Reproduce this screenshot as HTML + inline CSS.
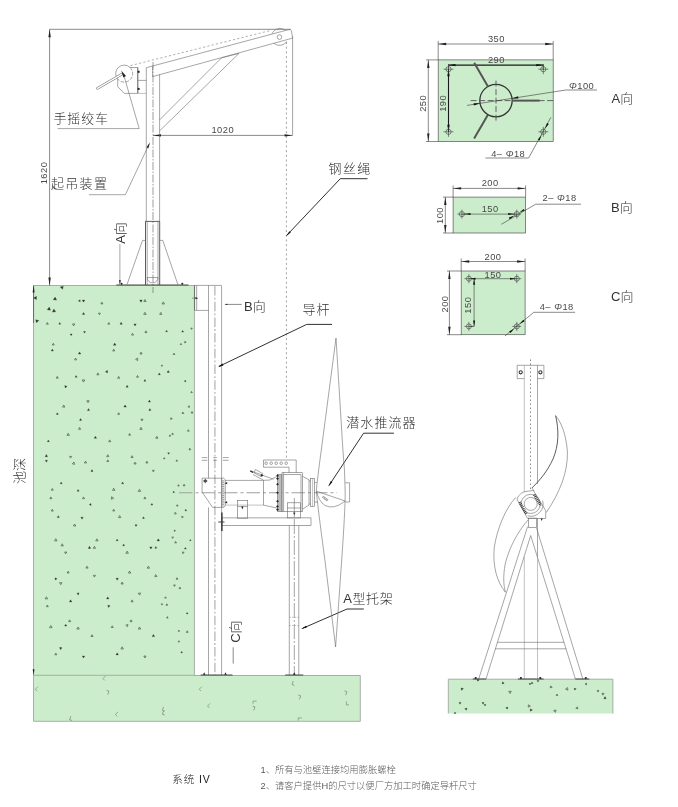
<!DOCTYPE html>
<html lang="zh"><head><meta charset="utf-8"><title>系统 IV</title><style>
html,body{margin:0;padding:0;background:#fff}
svg{display:block}
text{filter:grayscale(1)}
text{font-family:"Liberation Sans","Noto Sans CJK SC",sans-serif}
.l{fill:none;stroke:#6a6a6a;stroke-width:.6}
.l2{fill:none;stroke:#999;stroke-width:.6}
.s{fill:none;stroke:#333;stroke-width:.8}
.d{fill:none;stroke:#3a3a3a;stroke-width:.6}
.k{fill:none;stroke:#1a1a1a;stroke-width:.9}
.kk{fill:none;stroke:#1a1a1a;stroke-width:1.1}
.kf{fill:#111;stroke:none}
.af{fill:#222;stroke:none}
.dot{fill:none;stroke:#808080;stroke-width:.75;stroke-dasharray:2 2.7}
.l3{fill:none;stroke:#8c8c8c;stroke-width:.8}
.bo{fill:#fff;stroke:#333;stroke-width:1.1}
.dot2{fill:none;stroke:#555;stroke-width:.7;stroke-dasharray:1.5 2.5}
.dsh2{fill:none;stroke:#666;stroke-width:.6;stroke-dasharray:3.5 1.5}
.dsh3{fill:none;stroke:#777;stroke-width:.6;stroke-dasharray:2.2 2.2}
.dsh{fill:none;stroke:#777;stroke-width:.5;stroke-dasharray:1.5 1.2}
.cl{fill:none;stroke:#5a5a5a;stroke-width:.6;stroke-dasharray:8 1.5 1.5 1.5}
.cl2{fill:none;stroke:#b0b0b0;stroke-width:1.2;stroke-dasharray:9.5 2.2 1.8 2.2}
.cl4{fill:none;stroke:#666;stroke-width:.6;stroke-dasharray:15 2 2 2}
.cl3{fill:none;stroke:#a0a0a0;stroke-width:1.1;stroke-dasharray:13.5 3 3 3}
.cd{fill:none;stroke:#555;stroke-width:.9;stroke-dasharray:6 2.5}
.ck{fill:none;stroke:#333;stroke-width:1.3}
.rib{fill:none;stroke:#555;stroke-width:2}
.hat{fill:none;stroke:#333;stroke-width:2.8;stroke-dasharray:.9 .9}
.wd{fill:none;stroke:#fff;stroke-width:1.1;stroke-dasharray:1.2 1}
.fb{fill:none;stroke:#999;stroke-width:2}
.fl{fill:#bbb;stroke:#666;stroke-width:.5}
.bp{fill:none;stroke:#444;stroke-width:1}
.bp2{fill:none;stroke:#333;stroke-width:1.4}
.ce{fill:none;stroke:#959e95;stroke-width:.8}
.pe{stroke:#555;stroke-width:.7}
.tf{fill:#333;stroke:#333;stroke-width:.3}
.to{fill:none;stroke:#333;stroke-width:.55}
.lm{fill:none;stroke:#555;stroke-width:.45}
.t{font-size:13px;font-weight:300;fill:#333}
.n{font-size:9.3px;fill:#484848;font-weight:400;letter-spacing:.5px}
.ti{font-size:10.5px;fill:#1a1a1a;font-weight:300}
.nt{font-size:9.3px;fill:#5a5a5a;font-weight:300}
</style></head>
<body><svg width="678" height="807" viewBox="0 0 678 807">
<rect x="33.5" y="285.5" width="160.9" height="390" fill="#ccedcc"/>
<rect x="33.5" y="675.3" width="326.8" height="46" fill="#ccedcc"/>
<rect x="448.3" y="679.2" width="164.6" height="34.3" fill="#ccedcc"/>
<path class="ce" d="M33.5,285.5V721.3H360.3V675.5H194.4"/>
<path class="ce" d="M33.5,675.3H194.4V285.5H33.5"/>
<path class="ce" d="M448.3,713.5V679.2H612.9V713.5"/>
<polygon class="tf" points="80.3,301.8 78.3,300.9 80.1,299.7"/>
<polygon class="tf" points="83.5,302.2 82.3,300.1 84.8,300.1"/>
<polygon class="tf" points="82.4,314.4 83.5,312.4 84.7,314.4"/>
<polygon class="to" points="101.9,302.1 102.9,303.9 100.8,303.9"/>
<polygon class="to" points="99.6,314.8 98.3,313.3 100.3,313.0"/>
<polygon class="to" points="47.3,322.5 48.3,324.2 46.4,324.2"/>
<polygon class="tf" points="60.7,324.2 58.8,324.2 59.7,322.5"/>
<polygon class="to" points="73.6,325.9 72.5,323.9 74.8,323.9"/>
<polygon class="tf" points="70.1,333.9 72.1,333.9 71.2,335.7"/>
<polygon class="tf" points="84.5,333.2 83.5,331.5 85.5,331.5"/>
<polygon class="to" points="52.3,345.0 53.3,343.3 54.3,345.0"/>
<polygon class="tf" points="53.4,351.0 51.2,351.0 52.3,349.1"/>
<polygon class="tf" points="79.6,351.9 80.8,354.1 78.3,354.1"/>
<polygon class="to" points="76.7,359.9 74.5,359.9 75.6,358.1"/>
<polygon class="to" points="57.3,376.4 58.3,378.2 56.2,378.2"/>
<polygon class="tf" points="75.1,377.2 76.1,375.5 77.1,377.2"/>
<polygon class="to" points="83.5,382.1 82.2,379.9 84.8,379.9"/>
<polygon class="tf" points="65.1,387.9 64.8,385.4 67.1,386.4"/>
<polygon class="to" points="97.9,372.9 99.0,374.8 96.8,374.8"/>
<polygon class="tf" points="105.4,371.9 107.3,370.3 107.8,372.8"/>
<polygon class="to" points="88.0,402.8 86.8,400.7 89.2,400.7"/>
<polygon class="to" points="62.5,407.1 63.7,405.0 64.9,407.1"/>
<polygon class="tf" points="89.6,410.5 87.4,410.5 88.5,408.6"/>
<polygon class="tf" points="58.3,414.4 56.3,414.4 57.3,412.7"/>
<polygon class="tf" points="79.5,420.4 80.6,418.6 81.6,420.4"/>
<polygon class="to" points="79.6,427.4 80.7,429.3 78.5,429.3"/>
<polygon class="to" points="66.9,435.4 68.2,433.2 69.4,435.4"/>
<polygon class="tf" points="95.4,436.2 96.6,438.3 94.2,438.3"/>
<polygon class="tf" points="48.3,439.9 49.4,441.7 47.3,441.7"/>
<polygon class="tf" points="47.6,456.7 45.1,456.7 46.4,454.5"/>
<polygon class="tf" points="46.4,462.2 45.3,460.3 47.5,460.3"/>
<polygon class="to" points="70.6,458.1 69.6,456.4 71.6,456.4"/>
<polygon class="to" points="72.3,463.8 74.0,462.0 74.6,464.4"/>
<polygon class="to" points="85.5,461.1 86.6,463.0 84.4,463.0"/>
<polygon class="tf" points="92.0,469.6 93.0,471.5 90.9,471.5"/>
<polygon class="tf" points="61.2,482.1 62.2,483.8 60.2,483.8"/>
<polygon class="to" points="53.3,490.2 51.3,490.2 52.3,488.5"/>
<polygon class="tf" points="77.1,491.2 78.1,489.5 79.1,491.2"/>
<polygon class="to" points="51.9,498.7 49.8,498.7 50.8,496.9"/>
<polygon class="to" points="82.5,498.7 83.5,496.9 84.5,498.7"/>
<polygon class="tf" points="91.2,505.5 89.3,504.7 90.9,503.4"/>
<polygon class="to" points="52.3,509.3 53.3,511.1 51.3,511.1"/>
<polygon class="tf" points="59.3,517.5 57.2,517.5 58.3,515.7"/>
<polygon class="tf" points="82.0,519.2 80.9,517.2 83.2,517.2"/>
<polygon class="to" points="75.8,526.0 73.4,526.0 74.6,524.0"/>
<polygon class="to" points="55.8,538.7 57.0,540.9 54.5,540.9"/>
<polygon class="to" points="62.2,543.8 63.4,545.9 61.0,545.9"/>
<polygon class="to" points="96.9,538.8 98.1,540.9 95.7,540.9"/>
<polygon class="tf" points="89.5,546.2 90.7,548.4 88.2,548.4"/>
<polygon class="to" points="94.4,546.3 95.6,548.3 93.3,548.3"/>
<polygon class="to" points="65.7,553.9 64.6,552.0 66.8,552.0"/>
<polygon class="to" points="88.1,568.1 85.9,568.1 87.0,566.2"/>
<polygon class="to" points="68.2,571.2 69.2,573.0 67.1,573.0"/>
<polygon class="to" points="94.4,577.1 93.4,575.3 95.5,575.3"/>
<polygon class="tf" points="55.0,577.8 57.1,578.8 55.2,580.0"/>
<polygon class="to" points="61.9,582.6 60.8,584.7 59.5,582.7"/>
<polygon class="tf" points="78.6,594.9 76.8,593.6 78.8,592.7"/>
<polygon class="to" points="45.1,598.9 46.4,596.8 47.6,598.9"/>
<polygon class="tf" points="70.6,599.8 71.9,601.9 69.4,601.9"/>
<polygon class="to" points="46.4,606.7 47.3,605.0 48.3,606.7"/>
<polygon class="to" points="68.6,621.6 69.7,619.8 70.7,621.6"/>
<polygon class="tf" points="65.7,624.2 66.8,626.1 64.6,626.1"/>
<polygon class="to" points="78.1,627.0 79.3,629.1 76.8,629.1"/>
<polygon class="to" points="50.8,625.5 52.1,627.7 49.5,627.7"/>
<polygon class="to" points="93.0,636.5 90.9,636.5 92.0,634.7"/>
<polygon class="tf" points="60.7,649.7 59.5,647.6 61.9,647.6"/>
<polygon class="to" points="56.8,654.8 54.8,654.8 55.8,653.1"/>
<polygon class="tf" points="83.5,658.1 82.3,656.0 84.7,656.0"/>
<polygon class="tf" points="141.0,302.3 139.7,300.1 142.2,300.1"/>
<polygon class="to" points="144.9,299.5 146.1,301.5 143.8,301.5"/>
<polygon class="to" points="144.9,312.3 146.2,314.4 143.7,314.4"/>
<polygon class="to" points="164.5,304.0 162.1,304.0 163.3,301.9"/>
<polygon class="to" points="160.8,312.4 161.9,314.4 159.7,314.4"/>
<polygon class="to" points="108.8,322.5 109.7,324.2 107.8,324.2"/>
<polygon class="tf" points="121.1,322.3 122.3,324.3 120.0,324.3"/>
<polygon class="tf" points="135.0,326.0 133.9,323.9 136.2,323.9"/>
<polygon class="to" points="131.5,335.1 132.5,333.3 133.6,335.1"/>
<polygon class="to" points="147.0,332.6 144.9,332.6 145.9,330.8"/>
<polygon class="tf" points="113.4,345.2 114.7,343.0 116.0,345.2"/>
<polygon class="to" points="113.7,349.2 114.7,351.0 112.7,351.0"/>
<polygon class="to" points="142.1,354.0 139.9,354.0 141.0,352.1"/>
<polygon class="to" points="137.8,360.5 135.6,359.4 137.6,358.0"/>
<polygon class="to" points="118.7,376.4 119.7,378.3 117.6,378.3"/>
<polygon class="to" points="136.5,377.2 137.5,375.5 138.5,377.2"/>
<polygon class="tf" points="144.9,379.4 145.9,381.2 143.9,381.2"/>
<polygon class="tf" points="128.2,387.2 126.0,387.2 127.1,385.3"/>
<polygon class="tf" points="160.4,374.8 158.2,374.8 159.3,372.9"/>
<polygon class="tf" points="168.2,370.4 169.4,372.4 167.1,372.4"/>
<polygon class="tf" points="149.4,400.1 150.5,402.1 148.3,402.1"/>
<polygon class="tf" points="125.1,404.9 126.4,407.1 123.8,407.1"/>
<polygon class="tf" points="149.9,408.6 150.9,410.5 148.8,410.5"/>
<polygon class="to" points="117.7,414.4 118.7,412.7 119.6,414.4"/>
<polygon class="to" points="142.0,421.0 140.9,419.2 143.0,419.2"/>
<polygon class="to" points="141.0,427.3 142.2,429.4 139.8,429.4"/>
<polygon class="to" points="130.6,435.2 128.6,435.2 129.6,433.5"/>
<polygon class="to" points="156.8,436.3 158.0,438.3 155.7,438.3"/>
<polygon class="to" points="109.7,439.9 110.8,441.7 108.7,441.7"/>
<polygon class="to" points="108.8,456.6 106.7,456.6 107.8,454.7"/>
<polygon class="to" points="107.8,459.8 108.7,461.5 106.8,461.5"/>
<polygon class="to" points="133.1,457.5 131.0,457.5 132.1,455.7"/>
<polygon class="to" points="133.9,464.0 135.0,462.1 136.2,464.0"/>
<polygon class="to" points="146.9,461.2 147.9,463.0 145.9,463.0"/>
<polygon class="to" points="153.4,471.9 152.4,470.3 154.3,470.3"/>
<polygon class="tf" points="121.6,483.8 122.6,482.0 123.7,483.8"/>
<polygon class="to" points="112.5,490.4 113.7,488.2 114.9,490.4"/>
<polygon class="to" points="140.7,491.4 138.2,491.4 139.5,489.2"/>
<polygon class="to" points="111.4,499.3 111.6,496.7 113.7,498.2"/>
<polygon class="to" points="144.9,496.9 145.9,498.7 143.9,498.7"/>
<polygon class="tf" points="152.8,505.1 150.9,505.1 151.9,503.4"/>
<polygon class="to" points="112.7,511.0 113.7,509.3 114.7,511.0"/>
<polygon class="to" points="119.7,515.5 120.8,517.6 118.5,517.6"/>
<polygon class="tf" points="144.4,518.5 142.5,518.5 143.5,516.8"/>
<polygon class="tf" points="136.0,526.5 135.0,524.7 137.1,524.7"/>
<polygon class="tf" points="117.2,539.1 118.1,540.8 116.2,540.8"/>
<polygon class="tf" points="122.7,545.7 123.6,544.1 124.6,545.7"/>
<polygon class="tf" points="158.3,538.8 159.5,540.9 157.1,540.9"/>
<polygon class="tf" points="150.9,549.1 149.7,546.9 152.1,546.9"/>
<polygon class="tf" points="155.8,546.5 156.8,548.2 154.9,548.2"/>
<polygon class="to" points="127.1,551.1 128.4,553.3 125.8,553.3"/>
<polygon class="to" points="147.2,568.2 148.4,566.1 149.6,568.2"/>
<polygon class="to" points="130.8,573.1 128.4,573.1 129.6,571.0"/>
<polygon class="to" points="157.1,576.3 154.9,576.8 155.5,574.6"/>
<polygon class="tf" points="117.2,580.2 116.0,578.2 118.4,578.2"/>
<polygon class="to" points="122.1,582.0 123.3,584.0 121.0,584.0"/>
<polygon class="to" points="140.5,592.9 139.7,595.1 138.2,593.3"/>
<polygon class="tf" points="107.8,596.8 108.9,598.9 106.6,598.9"/>
<polygon class="to" points="131.0,601.8 132.1,599.9 133.1,601.8"/>
<polygon class="tf" points="107.8,605.2 110.1,605.8 108.4,607.4"/>
<polygon class="to" points="131.1,619.8 132.1,621.6 130.0,621.6"/>
<polygon class="to" points="125.8,625.2 128.0,624.5 127.5,626.7"/>
<polygon class="to" points="139.5,627.0 140.7,629.1 138.3,629.1"/>
<polygon class="to" points="112.2,625.8 113.3,627.5 111.2,627.5"/>
<polygon class="tf" points="152.1,636.6 153.4,634.4 154.7,636.6"/>
<polygon class="to" points="122.1,646.8 123.4,649.0 120.9,649.0"/>
<polygon class="tf" points="117.2,652.8 118.4,654.9 116.0,654.9"/>
<polygon class="to" points="144.9,658.0 143.8,656.0 146.1,656.0"/>
<polygon class="tf" points="165.6,331.8 166.6,330.2 167.5,331.8"/>
<polygon class="tf" points="182.6,330.4 183.6,332.1 181.7,332.1"/>
<polygon class="to" points="191.5,329.4 190.8,328.1 192.3,328.1"/>
<polygon class="to" points="180.2,344.6 180.9,343.4 181.6,344.6"/>
<polygon class="to" points="174.0,353.1 174.8,354.5 173.2,354.5"/>
<polygon class="tf" points="186.1,381.6 184.3,381.6 185.2,380.0"/>
<polygon class="to" points="192.4,392.5 190.9,392.8 191.4,391.4"/>
<polygon class="to" points="192.0,413.6 191.1,412.0 192.9,412.0"/>
<polygon class="to" points="183.8,413.5 182.0,413.5 182.9,412.0"/>
<polygon class="to" points="187.5,431.2 188.4,429.7 189.2,431.2"/>
<polygon class="to" points="169.2,436.2 169.9,434.9 170.6,436.2"/>
<polygon class="tf" points="168.6,454.3 167.7,452.8 169.5,452.8"/>
<polygon class="to" points="165.0,458.8 163.5,458.8 164.3,457.6"/>
<polygon class="to" points="189.1,450.0 189.7,448.2 190.9,449.6"/>
<polygon class="to" points="185.0,485.8 183.2,485.8 184.1,484.2"/>
<polygon class="tf" points="173.7,491.1 174.5,492.5 172.9,492.5"/>
<polygon class="to" points="177.3,506.5 176.5,505.1 178.1,505.1"/>
<polygon class="to" points="175.2,512.3 176.4,513.8 174.6,514.1"/>
<polygon class="tf" points="185.8,509.2 186.7,510.8 184.9,510.8"/>
<polygon class="to" points="175.6,541.4 176.5,542.9 174.7,542.9"/>
<polygon class="tf" points="190.4,539.4 191.1,540.7 189.6,540.7"/>
<polygon class="tf" points="186.3,549.1 184.4,549.1 185.3,547.5"/>
<polygon class="to" points="177.9,579.3 176.2,579.3 177.0,577.7"/>
<polygon class="to" points="179.9,587.1 180.8,588.6 179.0,588.6"/>
<polygon class="to" points="165.5,596.8 166.3,598.1 164.7,598.1"/>
<polygon class="to" points="166.8,603.8 167.7,605.3 166.0,605.3"/>
<polygon class="tf" points="186.3,613.9 187.1,612.4 188.0,613.9"/>
<polygon class="to" points="187.2,630.8 188.1,632.4 186.3,632.4"/>
<polygon class="to" points="178.2,631.3 178.9,630.1 179.6,631.3"/>
<polygon class="to" points="178.9,640.7 179.6,641.9 178.1,641.9"/>
<polygon class="tf" points="180.8,652.8 181.7,651.3 182.6,652.8"/>
<polygon class="to" points="176.7,459.8 177.6,461.1 176.0,461.2"/>
<polygon class="to" points="174.1,530.1 175.6,530.5 174.5,531.6"/>
<polygon class="to" points="172.9,433.1 173.2,434.7 171.6,434.1"/>
<polygon class="to" points="161.3,365.2 162.7,365.4 161.8,366.5"/>
<polygon class="to" points="172.3,418.9 170.5,419.4 171.0,417.6"/>
<polygon class="to" points="182.8,553.7 182.4,551.9 184.2,552.4"/>
<polygon class="to" points="183.4,516.8 182.2,518.1 181.6,516.4"/>
<polygon class="to" points="161.8,603.4 162.8,604.5 161.4,604.8"/>
<polygon class="to" points="175.3,584.9 174.5,586.5 173.5,585.0"/>
<polygon class="to" points="186.2,342.2 184.7,343.0 184.8,341.3"/>
<polygon class="to" points="189.4,407.5 187.9,406.8 189.3,405.7"/>
<polygon class="to" points="167.5,616.6 168.0,618.2 166.4,617.8"/>
<polygon class="to" points="179.0,486.3 177.6,485.5 178.9,484.7"/>
<polygon class="to" points="171.7,537.3 173.3,536.9 172.9,538.4"/>
<polygon class="tf" points="36.5,299.6 33.6,298.1 36.4,296.3"/>
<polygon class="tf" points="53.3,299.8 55.1,297.1 56.6,300.1"/>
<polygon class="tf" points="50.5,310.2 47.2,309.7 49.3,307.1"/>
<polygon class="tf" points="55.7,311.8 52.4,312.1 53.9,309.1"/>
<polygon class="tf" points="35.7,319.7 38.8,320.5 36.5,322.8"/>
<polygon class="tf" points="62.5,289.3 60.2,287.0 63.3,286.2"/>
<path class="lm" d="M0,-2.2V1.5H2.6" transform="translate(104.0,677.5) rotate(45)"/>
<path class="lm" d="M0,-2.2V1.5H2.6" transform="translate(36.3,688.3) rotate(45)"/>
<path class="lm" d="M0,-2.2V1.5H2.6" transform="translate(108.5,692.6) rotate(200)"/>
<path class="lm" d="M0,-2.2V1.5H2.6" transform="translate(116.5,713.4) rotate(45)"/>
<path class="lm" d="M0,-2.2V1.5H2.6" transform="translate(70.1,718.2) rotate(20)"/>
<path class="lm" d="M0,-2.2V1.5H2.6" transform="translate(162.9,708.9) rotate(20)"/>
<path class="lm" d="M0,-2.2V1.5H2.6" transform="translate(162.9,712.8) rotate(20)"/>
<path class="lm" d="M0,-2.2V1.5H2.6" transform="translate(200.3,688.2) rotate(45)"/>
<path class="lm" d="M0,-2.2V1.5H2.6" transform="translate(208.6,705.0) rotate(45)"/>
<path class="lm" d="M0,-2.2V1.5H2.6" transform="translate(254.5,701.1) rotate(90)"/>
<path class="lm" d="M0,-2.2V1.5H2.6" transform="translate(254.5,708.4) rotate(200)"/>
<path class="lm" d="M0,-2.2V1.5H2.6" transform="translate(292.5,683.1) rotate(20)"/>
<path class="lm" d="M0,-2.2V1.5H2.6" transform="translate(300.2,697.3) rotate(200)"/>
<path class="lm" d="M0,-2.2V1.5H2.6" transform="translate(299.7,717.9) rotate(90)"/>
<path class="lm" d="M0,-2.2V1.5H2.6" transform="translate(346.4,693.2) rotate(200)"/>
<path class="lm" d="M0,-2.2V1.5H2.6" transform="translate(346.4,703.4) rotate(0)"/>
<polygon class="tf" points="461.6,690.4 461.0,687.9 463.4,688.6"/>
<polygon class="tf" points="460.0,704.2 459.0,702.4 461.0,702.4"/>
<polygon class="tf" points="466.5,710.2 464.7,708.8 466.8,708.0"/>
<polygon class="tf" points="484.0,702.4 483.1,704.2 482.0,702.5"/>
<polygon class="tf" points="485.0,706.0 484.1,704.5 485.9,704.5"/>
<polygon class="tf" points="477.2,678.9 479.3,679.9 477.5,681.2"/>
<polygon class="tf" points="504.2,683.3 502.1,683.9 502.6,681.8"/>
<polygon class="to" points="510.2,693.5 508.6,691.4 511.2,691.1"/>
<polygon class="tf" points="507.9,707.1 507.3,709.2 505.8,707.7"/>
<polygon class="to" points="529.2,683.4 530.9,683.6 529.9,685.0"/>
<polygon class="to" points="533.0,683.5 531.1,683.6 531.9,681.9"/>
<polygon class="to" points="537.1,680.3 539.0,680.6 537.9,682.1"/>
<polygon class="to" points="530.4,706.1 528.3,707.2 528.3,704.8"/>
<polygon class="tf" points="530.2,711.2 530.4,708.7 532.4,710.1"/>
<polygon class="to" points="552.2,687.3 550.1,687.8 550.7,685.8"/>
<polygon class="to" points="556.9,694.0 557.9,695.4 556.2,695.6"/>
<polygon class="to" points="567.6,687.6 567.9,690.2 565.5,689.1"/>
<polygon class="tf" points="574.1,688.2 576.2,688.7 574.7,690.2"/>
<polygon class="to" points="585.0,684.0 586.5,683.1 586.5,684.9"/>
<polygon class="to" points="577.4,706.8 577.9,708.9 575.8,708.3"/>
<polygon class="to" points="596.9,690.8 598.7,690.2 598.3,692.0"/>
<polygon class="to" points="602.8,695.2 602.0,693.2 604.1,693.5"/>
<polygon class="tf" points="603.8,698.7 605.0,696.6 606.2,698.7"/>
<polygon class="to" points="556.1,710.0 555.3,712.4 553.6,710.5"/>
<polygon class="to" points="455.1,712.0 455.8,713.6 454.1,713.4"/>
<line class="d" x1="33.6" y1="285.5" x2="33.6" y2="323"/>
<polygon class="af" points="33.6,285.5 34.6,292.5 32.6,292.5"/>
<polygon class="af" points="33.6,675.3 32.7,669.3 34.5,669.3"/>
<text class="t" x="24.3" y="471" transform="rotate(-90 24.3 471)" text-anchor="middle">池深</text>
<line class="d" x1="49.6" y1="29.3" x2="290.6" y2="29.3"/>
<line class="d" x1="49.6" y1="29.3" x2="49.6" y2="285.5"/>
<polygon class="af" points="49.6,29.3 50.8,37.3 48.4,37.3"/>
<polygon class="af" points="49.6,285.5 48.4,277.5 50.8,277.5"/>
<text class="n" x="47" y="173" transform="rotate(-90 47 173)" text-anchor="middle">1620</text>
<line class="d" x1="153" y1="135.4" x2="292.6" y2="135.4"/>
<polygon class="af" points="153.0,135.4 161.0,134.2 161.0,136.6"/>
<polygon class="af" points="292.6,135.4 284.6,136.6 284.6,134.2"/>
<text class="n" x="222.8" y="132.8" text-anchor="middle">1020</text>
<line class="l3" x1="292.6" y1="36.5" x2="292.6" y2="135.4"/>
<line class="dot" x1="286.4" y1="42" x2="286.4" y2="460"/>
<line class="l" x1="146.3" y1="67.7" x2="146.3" y2="221.5"/>
<line class="l" x1="159.6" y1="74.5" x2="159.6" y2="221.5"/>
<line class="cl" x1="153" y1="62" x2="153" y2="293"/>
<polyline class="l" points="146.3,67.7 285.4,30.5"/>
<polyline class="l" points="152.6,76.6 292.6,38.1"/>
<line class="l" x1="152.6" y1="76.6" x2="152.6" y2="66.2"/>
<polyline class="dsh3" points="130.5,65.6 270.0,30.6"/>
<path class="l" d="M272.1,33.6A8.5,8.5 0 0 1 285.4,30.5"/>
<path class="l" d="M286.7,41.5A8.5,8.5 0 0 1 273.9,43.3"/>
<circle class="l" cx="279.5" cy="37.1" r="2.3"/>
<path class="l" d="M285.4,30.5L290.3,29.4Q291.6,30 291.8,33L292.6,38.1"/>
<polyline class="l" points="159.6,119.9 221.5,57.9"/>
<polyline class="l" points="159.6,130.9 239.0,53.4"/>
<polyline class="l" points="221.5,57.9 239.0,53.4"/>
<path class="l" d="M137.8,67.5H130.1A8.5,8.5 0 0 0 117.7,79.1V86.6L124.2,93.4H137.8"/>
<path class="dsh2" d="M130.1,67.5A8.5,8.5 0 1 1 117.7,79.1"/>
<line class="s" x1="137.8" y1="67.5" x2="137.8" y2="93.4"/>
<rect class="af" x="137.6" y="70.8" width="2" height="2"/>
<rect class="af" x="137.6" y="87.9" width="2" height="2"/>
<line class="l" x1="137.8" y1="80.4" x2="146.3" y2="80.4"/>
<line class="l2" x1="137.8" y1="93.4" x2="146.3" y2="93.4"/>
<path d="M122,74.2L97.4,88.3" fill="none" stroke="#777" stroke-width="2.5" stroke-linecap="round"/><path d="M122,74.2L97.4,88.3" fill="none" stroke="#fff" stroke-width="1.4" stroke-linecap="round"/>
<text class="t" x="53.4" y="122.5" letter-spacing="0.9">手摇绞车</text>
<polyline class="l" points="57.7,128.6 139.2,128.6 123.6,74.5"/>
<polygon class="af" points="121.2,70.6 126.0,75.9 123.4,77.4"/>
<text class="t" x="51" y="187.8" letter-spacing="1.3">起吊装置</text>
<polyline class="l" points="89.0,194.7 125.4,194.7 149.2,144.0"/>
<polygon class="af" points="150.0,142.3 148.4,148.2 146.6,147.3"/>
<text class="t" x="124.8" y="233" transform="rotate(-90 124.8 233)" text-anchor="middle">A向</text>
<line class="l" x1="119.9" y1="244" x2="119.9" y2="284"/>
<polygon class="af" points="119.9,285.0 119.1,280.0 120.7,280.0"/>
<path class="s" d="M145.5,285V221.4H159.7V285"/>
<line class="l" x1="147.2" y1="221.4" x2="147.2" y2="285"/>
<line class="l" x1="158" y1="221.4" x2="158" y2="285"/>
<path class="l" d="M147.2,277.5A5.4,5.4 0 0 0 158,277.5Z"/>
<polyline class="l" points="145.5,240.4 142.5,240.4 127.0,284.6"/>
<polyline class="l" points="159.7,240.4 162.8,240.4 177.9,284.6"/>
<line class="bp" x1="116.3" y1="285" x2="188.5" y2="285"/>
<circle class="af" cx="121.6" cy="283.8" r="1"/>
<circle class="af" cx="182.3" cy="283.8" r="1"/>
<line class="l" x1="194.4" y1="285.4" x2="221.3" y2="285.4"/>
<line class="d" x1="194.6" y1="285.4" x2="194.6" y2="310.4"/>
<line class="l" x1="196.7" y1="285.4" x2="196.7" y2="310.4"/>
<line class="l" x1="195" y1="310.4" x2="208.6" y2="310.4"/>
<polygon class="af" points="198.2,298.2 195.4,299.3 195.4,297.1"/>
<line class="l" x1="192" y1="298.2" x2="195" y2="298.2"/>
<line class="l" x1="208.5" y1="285.4" x2="208.5" y2="478.2"/>
<line class="l" x1="208.5" y1="507.4" x2="208.5" y2="675"/>
<line class="l" x1="221.6" y1="285.4" x2="221.6" y2="675"/>
<line class="cl2" x1="214.9" y1="286" x2="214.9" y2="675"/>
<line class="d" x1="224.9" y1="304.4" x2="241.7" y2="304.4"/>
<polygon class="af" points="224.9,304.4 227.4,303.8 227.4,305.0"/>
<text class="t" x="244" y="311.3">B向</text>
<text class="t" x="240.2" y="631.6" transform="rotate(-90 240.2 631.6)" text-anchor="middle">C向</text>
<line class="d" x1="233.2" y1="647.3" x2="233.2" y2="663.6"/>
<line class="bp" x1="200.7" y1="675" x2="232.5" y2="675"/>
<polygon class="af" points="204.2,672.3 205.4,674.7 203.0,674.7"/>
<polygon class="af" points="225.5,672.3 226.7,674.7 224.3,674.7"/>
<path class="l" d="M201.8,457.6H207.4M213.2,457.6H216.8M222.8,457.6H228.7"/>
<path class="l" d="M201.8,460.3H207.4M213.2,460.3H216.8M222.8,460.3H228.7"/>
<text class="t" x="328.6" y="172.6" letter-spacing="1.3">钢丝绳</text>
<polyline class="k" points="367.5,178.7 340.3,178.7 286.8,235.3"/>
<polygon class="kf" points="286.0,236.2 289.4,231.2 290.8,232.5"/>
<text class="t" x="302.6" y="313.6" letter-spacing="0.8">导杆</text>
<polyline class="k" points="332.0,324.4 306.7,324.4 219.0,366.4"/>
<polygon class="kf" points="217.6,367.1 222.6,363.6 223.4,365.4"/>
<text class="t" x="346.2" y="427" letter-spacing="1.1">潜水推流器</text>
<polyline class="k" points="393.9,433.2 363.6,433.2 329.0,485.5"/>
<polygon class="kf" points="328.3,486.6 330.8,481.0 332.4,482.1"/>
<text class="t" x="343.2" y="603.3" letter-spacing="0.6">A型托架</text>
<polyline class="k" points="363.8,609.0 347.0,609.0 302.5,628.4"/>
<polygon class="kf" points="301.0,629.0 306.1,625.7 306.9,627.5"/>
<line class="cl3" x1="179" y1="492.7" x2="337" y2="492.7"/>
<polygon class="l" points="202.1,478.2 221.6,478.2 221.6,507.4 212.6,507.4 202.1,492.1"/>
<path class="l" d="M221.6,478.2H223.6L225.3,479.8V505.8L223.6,507.4H221.6"/>
<line class="fb" x1="223.2" y1="480" x2="223.2" y2="506.5"/>
<line class="wd" x1="223.2" y1="480.5" x2="223.2" y2="506.5"/>
<polygon class="af" points="224.6,483.2 227.2,482.1 227.2,484.3"/>
<polygon class="af" points="224.6,502.3 227.2,501.2 227.2,503.4"/>
<path class="af" d="M203.4,481l1.9,-1.9 1.9,1.9 -1.9,1.9z"/><path class="l" d="M203,481h4.6M205.3,478.7v4.6"/>
<polyline class="l" points="225.4,480.4 263.5,480.4"/>
<polyline class="l2" points="225.4,505.1 263.5,505.1"/>
<line class="l" x1="263.5" y1="480.4" x2="263.5" y2="505.1"/>
<polyline class="l" points="263.5,480.4 270.0,480.0 276.7,476.5"/>
<polyline class="l" points="263.5,505.1 276.7,508.0"/>
<rect class="fl" x="277.3" y="474.5" width="4.7" height="37.2"/>
<path class="af" d="M276.1,475.7l1.4,-1.3 1.4,1.3 -1.4,1.3z"/>
<path class="af" d="M276.1,478.6l1.4,-1.3 1.4,1.3 -1.4,1.3z"/>
<path class="af" d="M276.1,484.2l1.4,-1.3 1.4,1.3 -1.4,1.3z"/>
<path class="af" d="M276.1,492.7l1.4,-1.3 1.4,1.3 -1.4,1.3z"/>
<path class="af" d="M276.1,501.3l1.4,-1.3 1.4,1.3 -1.4,1.3z"/>
<path class="af" d="M276.1,506.4l1.4,-1.3 1.4,1.3 -1.4,1.3z"/>
<path class="af" d="M276.1,509.6l1.4,-1.3 1.4,1.3 -1.4,1.3z"/>
<rect class="l" x="282" y="472.7" width="20.6" height="39"/>
<line class="l" x1="283.5" y1="474.5" x2="301" y2="474.5"/>
<line class="l" x1="301" y1="474.5" x2="301" y2="511.7"/>
<line class="l" x1="283.6" y1="472.7" x2="283.6" y2="511.7"/>
<polyline class="l" points="302.6,476.3 309.0,479.8 309.0,505.1 302.6,509.0"/>
<rect class="l" x="310.3" y="478.6" width="4.3" height="27.8"/>
<line class="l2" x1="312.6" y1="478.6" x2="312.6" y2="506.4"/>
<line class="l" x1="309" y1="481" x2="310.3" y2="481"/>
<line class="l" x1="309" y1="504" x2="310.3" y2="504"/>
<polyline class="l" points="314.6,482.5 316.7,482.5"/>
<polyline class="l" points="314.6,502.0 318.0,502.0"/>
<polyline class="l" points="263.5,467.2 263.5,460.0 296.2,460.0 296.2,472.7"/>
<polyline class="l" points="263.5,467.2 289.0,467.2 289.0,472.7"/>
<circle class="l" cx="266.1" cy="463.2" r="1.3"/>
<circle class="l" cx="271.2" cy="463.2" r="1.3"/>
<circle class="l" cx="276.2" cy="463.2" r="1.3"/>
<circle class="l" cx="281.2" cy="463.2" r="1.3"/>
<circle class="l" cx="286.2" cy="463.2" r="1.3"/>
<polyline class="l" points="251.0,471.0 273.5,479.2"/>
<polyline class="l" points="253.0,474.5 263.5,480.2"/>
<polygon class="l" points="255.5,469.5 262.5,473.5 261.0,476.5 254.0,472.8"/>
<line class="bp2" x1="250.2" y1="470.8" x2="253.2" y2="472.5"/>
<path class="af" d="M260.4,475.4l1.4,-1.4 1.4,1.4 -1.4,1.4z"/>
<rect class="l" x="237.4" y="500.3" width="10.3" height="17.9" fill="#fff"/>
<line class="l" x1="237.4" y1="506.6" x2="247.5" y2="506.6"/>
<polygon class="af" points="242.4,509.6 241.3,506.6 243.5,506.6"/>
<rect class="l" x="287.3" y="502.8" width="13.3" height="15.1"/>
<line class="l" x1="287.3" y1="508" x2="300.6" y2="508"/>
<polygon class="af" points="294.3,515.6 293.2,512.6 295.4,512.6"/>
<rect class="l" x="221.9" y="517.9" width="89.1" height="7.4"/>
<line class="bp2" x1="221.9" y1="512.6" x2="221.9" y2="531"/>
<line class="bp" x1="218.3" y1="522" x2="224.5" y2="522"/>
<line class="l" x1="289.3" y1="525.3" x2="289.3" y2="675"/>
<line class="l" x1="298.8" y1="525.3" x2="298.8" y2="675"/>
<line class="cl4" x1="294.3" y1="498" x2="294.3" y2="675"/>
<line class="dsh" x1="289.3" y1="617.3" x2="298.8" y2="617.3"/>
<line class="dsh" x1="289.3" y1="625.5" x2="298.8" y2="625.5"/>
<line class="bp" x1="285.2" y1="675" x2="303.3" y2="675"/>
<polygon class="af" points="294.3,672.3 295.6,674.7 293.0,674.7"/>
<path class="l" d="M336,338 L321.3,450 Q317.2,480 316.3,491 Q317.5,505 324.9,560 L335.6,647 L341.7,560 Q345.2,510 345.2,493 Q345,470 342.9,450 Z"/>
<polyline class="l" points="345.2,482.8 349.6,482.8 349.6,502.0 345.2,502.0"/>
<path class="l" d="M316.7,491.3L345.2,501 Q334,510 325,505.5 Q318.5,501 316.7,491.3Z"/>
<ellipse class="l" cx="323.5" cy="497.3" rx="1" ry="0.8"/><ellipse class="l" cx="325.2" cy="498.6" rx="1" ry="0.8"/><ellipse class="l" cx="326.9" cy="499.8" rx="1" ry="0.8"/>
<rect x="438.2" y="59.9" width="115" height="81.6" fill="#ccedcc" class="pe"/>
<line class="d" x1="438.2" y1="44" x2="553.2" y2="44"/>
<polygon class="af" points="438.2,44.0 446.2,42.8 446.2,45.2"/>
<polygon class="af" points="553.2,44.0 545.2,45.2 545.2,42.8"/>
<line class="d" x1="438.2" y1="41" x2="438.2" y2="59.9"/>
<line class="d" x1="553.2" y1="41" x2="553.2" y2="59.9"/>
<text class="n" x="496.4" y="41.6" text-anchor="middle">350</text>
<line class="d" x1="428.3" y1="59.9" x2="428.3" y2="141.5"/>
<polygon class="af" points="428.3,59.9 429.5,67.9 427.1,67.9"/>
<polygon class="af" points="428.3,141.5 427.1,133.5 429.5,133.5"/>
<line class="d" x1="426" y1="59.9" x2="438.2" y2="59.9"/>
<line class="d" x1="426" y1="141.5" x2="438.2" y2="141.5"/>
<text class="n" x="425.6" y="103.3" transform="rotate(-90 425.6 103.3)" text-anchor="middle">250</text>
<line class="kk" x1="448.5" y1="65.1" x2="543.3" y2="65.1"/>
<polygon class="kf" points="448.5,65.1 455.5,63.9 455.5,66.3"/>
<polygon class="kf" points="543.3,65.1 536.3,66.3 536.3,63.9"/>
<line class="d" x1="448.5" y1="64" x2="448.5" y2="70"/>
<line class="d" x1="543.3" y1="64" x2="543.3" y2="70"/>
<text class="n" x="496.4" y="62.6" text-anchor="middle">290</text>
<line class="kk" x1="448.5" y1="69.2" x2="448.5" y2="131.8"/>
<polygon class="kf" points="448.5,69.2 449.7,76.2 447.3,76.2"/>
<polygon class="kf" points="448.5,131.8 447.3,124.8 449.7,124.8"/>
<text class="n" x="445.7" y="103.3" transform="rotate(-90 445.7 103.3)" text-anchor="middle">190</text>
<circle class="d" cx="448.5" cy="69.2" r="2.6"/>
<line class="d" x1="443.5" y1="69.2" x2="453.5" y2="69.2"/>
<line class="d" x1="448.5" y1="64.2" x2="448.5" y2="74.2"/>
<circle class="d" cx="543.3" cy="69.2" r="2.6"/>
<line class="d" x1="538.3" y1="69.2" x2="548.3" y2="69.2"/>
<line class="d" x1="543.3" y1="64.2" x2="543.3" y2="74.2"/>
<circle class="d" cx="448.5" cy="131.8" r="2.6"/>
<line class="d" x1="443.5" y1="131.8" x2="453.5" y2="131.8"/>
<line class="d" x1="448.5" y1="126.80000000000001" x2="448.5" y2="136.8"/>
<circle class="d" cx="543.3" cy="131.8" r="2.6"/>
<line class="d" x1="538.3" y1="131.8" x2="548.3" y2="131.8"/>
<line class="d" x1="543.3" y1="126.80000000000001" x2="543.3" y2="136.8"/>
<circle class="ck" cx="496" cy="100.6" r="16.2"/>
<line class="cd" x1="496" y1="80.6" x2="496" y2="121"/>
<line class="cd" x1="470.6" y1="100.6" x2="553" y2="100.6"/>
<line class="rib" x1="512.5" y1="100.6" x2="539.7" y2="100.6"/>
<line class="rib" x1="487.8" y1="86.3" x2="474.2" y2="62.8"/>
<line class="rib" x1="487.8" y1="114.9" x2="474.1" y2="138.4"/>
<polyline class="d" points="467.0,105.4 565.8,90.0 597.0,90.0"/>
<polygon class="kf" points="480.2,103.3 473.9,105.4 473.6,103.2"/>
<polygon class="kf" points="511.8,98.4 518.1,96.3 518.4,98.5"/>
<text class="n" x="569" y="88.9"><tspan font-style="italic">Φ</tspan>100</text>
<polyline class="d" points="550.9,117.3 528.6,158.0 485.4,158.0"/>
<polygon class="kf" points="545.0,128.7 547.0,123.0 548.8,123.9"/>
<polygon class="kf" points="541.6,134.9 539.6,140.6 537.8,139.7"/>
<text class="n" x="491.2" y="156.9">4– <tspan font-style="italic">Φ</tspan>18</text>
<text class="t" x="611.5" y="103">A向</text>
<rect x="453.1" y="197.1" width="72.5" height="35.9" fill="#ccedcc" class="pe"/>
<line class="d" x1="453.1" y1="188.4" x2="525.6" y2="188.4"/>
<polygon class="af" points="453.1,188.4 461.1,187.2 461.1,189.6"/>
<polygon class="af" points="525.6,188.4 517.6,189.6 517.6,187.2"/>
<line class="d" x1="453.1" y1="185.5" x2="453.1" y2="197.1"/>
<line class="d" x1="525.6" y1="185.5" x2="525.6" y2="197.1"/>
<text class="n" x="490.2" y="186.4" text-anchor="middle">200</text>
<line class="d" x1="445.3" y1="197.1" x2="445.3" y2="233"/>
<polygon class="af" points="445.3,197.1 446.5,205.1 444.1,205.1"/>
<polygon class="af" points="445.3,233.0 444.1,225.0 446.5,225.0"/>
<line class="d" x1="443" y1="197.1" x2="453.1" y2="197.1"/>
<line class="d" x1="443" y1="233" x2="453.1" y2="233"/>
<text class="n" x="443.4" y="215.5" transform="rotate(-90 443.4 215.5)" text-anchor="middle">100</text>
<circle class="d" cx="461.9" cy="214.1" r="2.6"/>
<line class="d" x1="457.4" y1="214.1" x2="466.4" y2="214.1"/>
<line class="d" x1="461.9" y1="209.6" x2="461.9" y2="218.6"/>
<circle class="d" cx="516.8" cy="214.1" r="2.6"/>
<line class="d" x1="512.3" y1="214.1" x2="521.3" y2="214.1"/>
<line class="d" x1="516.8" y1="209.6" x2="516.8" y2="218.6"/>
<line class="d" x1="461.9" y1="214.1" x2="516.8" y2="214.1"/>
<polygon class="kf" points="464.5,214.1 470.5,213.1 470.5,215.1"/>
<polygon class="kf" points="514.2,214.1 508.2,215.1 508.2,213.1"/>
<text class="n" x="490.2" y="212" text-anchor="middle">150</text>
<polyline class="d" points="501.3,224.3 535.7,204.2 581.0,204.2"/>
<polygon class="kf" points="519.0,212.8 523.7,208.9 524.7,210.6"/>
<polygon class="kf" points="514.5,215.4 509.8,219.3 508.8,217.6"/>
<text class="n" x="542.6" y="201.3">2– <tspan font-style="italic">Φ</tspan>18</text>
<text class="t" x="611" y="212.3">B向</text>
<rect x="461.2" y="271" width="63.9" height="63.7" fill="#ccedcc" class="pe"/>
<line class="d" x1="461.2" y1="261.5" x2="525.1" y2="261.5"/>
<polygon class="af" points="461.2,261.5 469.2,260.3 469.2,262.7"/>
<polygon class="af" points="525.1,261.5 517.1,262.7 517.1,260.3"/>
<line class="d" x1="461.2" y1="258.5" x2="461.2" y2="271"/>
<line class="d" x1="525.1" y1="258.5" x2="525.1" y2="271"/>
<text class="n" x="493" y="259.6" text-anchor="middle">200</text>
<line class="d" x1="449.4" y1="271" x2="449.4" y2="334.7"/>
<polygon class="af" points="449.4,271.0 450.6,279.0 448.2,279.0"/>
<polygon class="af" points="449.4,334.7 448.2,326.7 450.6,326.7"/>
<line class="d" x1="447" y1="271" x2="461.2" y2="271"/>
<line class="d" x1="447" y1="334.7" x2="461.2" y2="334.7"/>
<text class="n" x="448" y="304" transform="rotate(-90 448 304)" text-anchor="middle">200</text>
<circle class="d" cx="468.9" cy="278.7" r="2.5"/>
<line class="d" x1="464.4" y1="278.7" x2="473.4" y2="278.7"/>
<line class="d" x1="468.9" y1="274.2" x2="468.9" y2="283.2"/>
<circle class="d" cx="516.8" cy="278.7" r="2.5"/>
<line class="d" x1="512.3" y1="278.7" x2="521.3" y2="278.7"/>
<line class="d" x1="516.8" y1="274.2" x2="516.8" y2="283.2"/>
<circle class="d" cx="468.9" cy="326.4" r="2.5"/>
<line class="d" x1="464.4" y1="326.4" x2="473.4" y2="326.4"/>
<line class="d" x1="468.9" y1="321.9" x2="468.9" y2="330.9"/>
<circle class="d" cx="516.8" cy="326.4" r="2.5"/>
<line class="d" x1="512.3" y1="326.4" x2="521.3" y2="326.4"/>
<line class="d" x1="516.8" y1="321.9" x2="516.8" y2="330.9"/>
<line class="d" x1="468.9" y1="278.7" x2="516.8" y2="278.7"/>
<polygon class="kf" points="470.5,278.7 475.5,277.7 475.5,279.7"/>
<polygon class="kf" points="515.0,278.7 510.0,279.7 510.0,277.7"/>
<text class="n" x="493" y="277.5" text-anchor="middle">150</text>
<line class="d" x1="474.1" y1="278.7" x2="474.1" y2="326.4"/>
<polygon class="kf" points="474.1,278.7 475.1,284.7 473.1,284.7"/>
<polygon class="kf" points="474.1,326.4 473.1,320.4 475.1,320.4"/>
<line class="d" x1="468.9" y1="326.4" x2="474.1" y2="326.4"/>
<text class="n" x="471.5" y="305.2" transform="rotate(-90 471.5 305.2)" text-anchor="middle">150</text>
<polyline class="d" points="505.0,335.9 533.8,312.3 575.1,312.3"/>
<polygon class="kf" points="519.3,324.3 523.3,319.7 524.6,321.3"/>
<polygon class="kf" points="514.4,328.4 510.4,333.0 509.1,331.4"/>
<text class="n" x="539.7" y="310">4– <tspan font-style="italic">Φ</tspan>18</text>
<text class="t" x="611" y="300.8">C向</text>
<path class="l" d="M524.3,378.6H517.2V365.3H543.9V378.6H537.4"/>
<circle class="bo" cx="520.7" cy="372.3" r="1.6"/><circle class="bo" cx="540.4" cy="372.3" r="1.6"/>
<line class="l2" x1="524.3" y1="365.3" x2="524.3" y2="492"/>
<line class="l" x1="537.5" y1="365.3" x2="537.5" y2="484"/>
<line class="dot2" x1="530.5" y1="359.5" x2="530.5" y2="490"/>
<path class="l" d="M555.6,415.6 C562,423 566.5,437 567.4,452 C568,472 560,492 546.4,512.4"/>
<path class="s" d="M555.6,415.6 C559,430 559,445 553,459 C547,472 540,480 531.9,488"/>
<line class="l" x1="531.9" y1="488" x2="534.2" y2="491.2"/>
<path class="l" d="M516.9,499 A12.6,12.6 0 0 1 528,491.2 L533.3,490.4 L545.7,510.5 V518.5 H527.6 Z"/>
<circle class="l" cx="530.7" cy="503.9" r="6.5"/>
<circle class="l" cx="530.7" cy="503.9" r="9.6"/>
<path class="l" d="M542.6,500.5A12.3,12.3 0 0 1 527.6,515.8"/>
<path class="hat" d="M519.6,502.1L526.7,514.5"/>
<path class="hat" d="M534.2,494.6L540.8,505.7"/>
<polygon class="af" points="541.7,521.0 540.7,518.6 542.7,518.6"/>
<path class="l" d="M515.7,497.4 C506,508 497,528 494.2,548 C492.5,566 497,582 505.4,592.2"/>
<path class="l" d="M528.4,519.6 C518,531 509,548 505.2,564 C503,576 503.5,585 505.4,592.2"/>
<rect class="l" x="528.4" y="518.1" width="8" height="9.4"/>
<polyline class="l" points="527.6,526.6 478.7,679.0"/>
<polyline class="l" points="530.7,535.5 486.0,679.0"/>
<polyline class="l" points="530.7,535.5 575.4,679.0"/>
<polyline class="l" points="536.4,527.5 582.8,679.0"/>
<line class="l" x1="537.5" y1="518.1" x2="537.5" y2="557"/>
<line class="l2" x1="524.3" y1="556.8" x2="524.3" y2="679"/>
<line class="l2" x1="537.5" y1="557" x2="537.5" y2="679"/>
<polyline class="l" points="497.2,642.3 564.0,642.3"/>
<polyline class="l" points="495.0,648.8 566.2,648.8"/>
<line class="bp" x1="472.8" y1="679" x2="486" y2="679"/>
<line class="bp" x1="517.9" y1="679" x2="543.6" y2="679"/>
<line class="bp" x1="575.4" y1="679" x2="589.3" y2="679"/>
<circle class="af" cx="475.7" cy="678" r="1.1"/>
<circle class="af" cx="520.9" cy="678" r="1.1"/>
<circle class="af" cx="540.3" cy="678" r="1.1"/>
<circle class="af" cx="585.8" cy="678" r="1.1"/>
<text class="ti" x="172.3" y="783.2" letter-spacing="0.9">系统 IV</text>
<text class="nt" x="260.5" y="773">1、所有与池壁连接均用膨胀螺栓</text>
<text class="nt" x="260.5" y="788.7">2、请客户提供H的尺寸以便厂方加工时确定导杆尺寸</text>
</svg></body></html>
